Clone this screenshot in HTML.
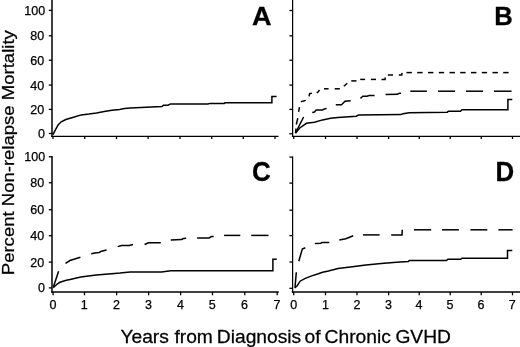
<!DOCTYPE html>
<html><head><meta charset="utf-8"><title>Non-relapse mortality</title>
<style>
html,body{margin:0;padding:0;background:#fff;}
body{width:520px;height:347px;overflow:hidden;}
svg{display:block;}
svg text{font-family:"Liberation Sans", Arial, Helvetica, sans-serif;fill:#000;stroke:#000;stroke-width:0.25px;}
</style></head><body>
<svg width="520" height="347" viewBox="0 0 520 347">
<rect width="520" height="347" fill="#fff"/>
<line x1="52.00" y1="0.00" x2="52.00" y2="136.95" stroke="#000" stroke-width="1.5"/>
<line x1="51.25" y1="136.30" x2="278.60" y2="136.30" stroke="#000" stroke-width="1.3"/>
<line x1="48.80" y1="133.50" x2="52.00" y2="133.50" stroke="#000" stroke-width="1.3"/>
<line x1="48.80" y1="109.40" x2="52.00" y2="109.40" stroke="#000" stroke-width="1.3"/>
<line x1="48.80" y1="85.10" x2="52.00" y2="85.10" stroke="#000" stroke-width="1.3"/>
<line x1="48.80" y1="60.25" x2="52.00" y2="60.25" stroke="#000" stroke-width="1.3"/>
<line x1="48.80" y1="35.80" x2="52.00" y2="35.80" stroke="#000" stroke-width="1.3"/>
<line x1="48.80" y1="10.40" x2="52.00" y2="10.40" stroke="#000" stroke-width="1.3"/>
<line x1="53.00" y1="136.30" x2="53.00" y2="139.00" stroke="#000" stroke-width="1.3"/>
<line x1="84.80" y1="136.30" x2="84.80" y2="139.00" stroke="#000" stroke-width="1.3"/>
<line x1="116.50" y1="136.30" x2="116.50" y2="139.00" stroke="#000" stroke-width="1.3"/>
<line x1="148.10" y1="136.30" x2="148.10" y2="139.00" stroke="#000" stroke-width="1.3"/>
<line x1="180.00" y1="136.30" x2="180.00" y2="139.00" stroke="#000" stroke-width="1.3"/>
<line x1="211.75" y1="136.30" x2="211.75" y2="139.00" stroke="#000" stroke-width="1.3"/>
<line x1="243.30" y1="136.30" x2="243.30" y2="139.00" stroke="#000" stroke-width="1.3"/>
<line x1="275.00" y1="136.30" x2="275.00" y2="139.00" stroke="#000" stroke-width="1.3"/>
<line x1="292.60" y1="0.00" x2="292.60" y2="136.95" stroke="#000" stroke-width="1.25"/>
<line x1="291.85" y1="136.30" x2="520.00" y2="136.30" stroke="#000" stroke-width="1.3"/>
<line x1="289.40" y1="133.75" x2="292.60" y2="133.75" stroke="#000" stroke-width="1.3"/>
<line x1="289.40" y1="109.40" x2="292.60" y2="109.40" stroke="#000" stroke-width="1.3"/>
<line x1="289.40" y1="85.10" x2="292.60" y2="85.10" stroke="#000" stroke-width="1.3"/>
<line x1="289.40" y1="60.25" x2="292.60" y2="60.25" stroke="#000" stroke-width="1.3"/>
<line x1="289.40" y1="35.80" x2="292.60" y2="35.80" stroke="#000" stroke-width="1.3"/>
<line x1="289.40" y1="10.50" x2="292.60" y2="10.50" stroke="#000" stroke-width="1.3"/>
<line x1="293.75" y1="136.30" x2="293.75" y2="139.00" stroke="#000" stroke-width="1.3"/>
<line x1="325.50" y1="136.30" x2="325.50" y2="139.00" stroke="#000" stroke-width="1.3"/>
<line x1="357.00" y1="136.30" x2="357.00" y2="139.00" stroke="#000" stroke-width="1.3"/>
<line x1="388.60" y1="136.30" x2="388.60" y2="139.00" stroke="#000" stroke-width="1.3"/>
<line x1="419.25" y1="136.30" x2="419.25" y2="139.00" stroke="#000" stroke-width="1.3"/>
<line x1="450.25" y1="136.30" x2="450.25" y2="139.00" stroke="#000" stroke-width="1.3"/>
<line x1="481.25" y1="136.30" x2="481.25" y2="139.00" stroke="#000" stroke-width="1.3"/>
<line x1="512.50" y1="136.30" x2="512.50" y2="139.00" stroke="#000" stroke-width="1.3"/>
<line x1="52.00" y1="156.10" x2="52.00" y2="292.85" stroke="#000" stroke-width="1.5"/>
<line x1="51.25" y1="292.00" x2="278.80" y2="292.00" stroke="#000" stroke-width="1.7"/>
<line x1="48.80" y1="287.90" x2="52.00" y2="287.90" stroke="#000" stroke-width="1.3"/>
<line x1="48.80" y1="262.10" x2="52.00" y2="262.10" stroke="#000" stroke-width="1.3"/>
<line x1="48.80" y1="235.70" x2="52.00" y2="235.70" stroke="#000" stroke-width="1.3"/>
<line x1="48.80" y1="209.75" x2="52.00" y2="209.75" stroke="#000" stroke-width="1.3"/>
<line x1="48.80" y1="182.75" x2="52.00" y2="182.75" stroke="#000" stroke-width="1.3"/>
<line x1="48.80" y1="156.80" x2="52.00" y2="156.80" stroke="#000" stroke-width="1.3"/>
<line x1="53.10" y1="292.00" x2="53.10" y2="295.30" stroke="#000" stroke-width="1.3"/>
<line x1="84.50" y1="292.00" x2="84.50" y2="295.30" stroke="#000" stroke-width="1.3"/>
<line x1="116.60" y1="292.00" x2="116.60" y2="295.30" stroke="#000" stroke-width="1.3"/>
<line x1="148.60" y1="292.00" x2="148.60" y2="295.30" stroke="#000" stroke-width="1.3"/>
<line x1="180.60" y1="292.00" x2="180.60" y2="295.30" stroke="#000" stroke-width="1.3"/>
<line x1="212.50" y1="292.00" x2="212.50" y2="295.30" stroke="#000" stroke-width="1.3"/>
<line x1="244.75" y1="292.00" x2="244.75" y2="295.30" stroke="#000" stroke-width="1.3"/>
<line x1="277.20" y1="292.00" x2="277.20" y2="295.30" stroke="#000" stroke-width="1.3"/>
<line x1="292.60" y1="156.45" x2="292.60" y2="292.85" stroke="#000" stroke-width="1.25"/>
<line x1="291.85" y1="292.00" x2="520.00" y2="292.00" stroke="#000" stroke-width="1.7"/>
<line x1="289.40" y1="288.30" x2="292.60" y2="288.30" stroke="#000" stroke-width="1.3"/>
<line x1="289.40" y1="262.00" x2="292.60" y2="262.00" stroke="#000" stroke-width="1.3"/>
<line x1="289.40" y1="235.60" x2="292.60" y2="235.60" stroke="#000" stroke-width="1.3"/>
<line x1="289.40" y1="210.20" x2="292.60" y2="210.20" stroke="#000" stroke-width="1.3"/>
<line x1="289.40" y1="183.10" x2="292.60" y2="183.10" stroke="#000" stroke-width="1.3"/>
<line x1="289.40" y1="157.10" x2="292.60" y2="157.10" stroke="#000" stroke-width="1.3"/>
<line x1="293.75" y1="292.00" x2="293.75" y2="295.30" stroke="#000" stroke-width="1.3"/>
<line x1="325.50" y1="292.00" x2="325.50" y2="295.30" stroke="#000" stroke-width="1.3"/>
<line x1="357.00" y1="292.00" x2="357.00" y2="295.30" stroke="#000" stroke-width="1.3"/>
<line x1="388.60" y1="292.00" x2="388.60" y2="295.30" stroke="#000" stroke-width="1.3"/>
<line x1="419.25" y1="292.00" x2="419.25" y2="295.30" stroke="#000" stroke-width="1.3"/>
<line x1="450.25" y1="292.00" x2="450.25" y2="295.30" stroke="#000" stroke-width="1.3"/>
<line x1="481.25" y1="292.00" x2="481.25" y2="295.30" stroke="#000" stroke-width="1.3"/>
<line x1="512.50" y1="292.00" x2="512.50" y2="295.30" stroke="#000" stroke-width="1.3"/>
<text x="44.9" y="138.05" font-size="12.5" text-anchor="end">0</text>
<text x="44.2" y="113.95" font-size="12.5" text-anchor="end">20</text>
<text x="44.2" y="89.65" font-size="12.5" text-anchor="end">40</text>
<text x="44.2" y="64.80" font-size="12.5" text-anchor="end">60</text>
<text x="44.2" y="40.35" font-size="12.5" text-anchor="end">80</text>
<text x="45.2" y="14.95" font-size="12.5" text-anchor="end">100</text>
<text x="44.9" y="292.45" font-size="12.5" text-anchor="end">0</text>
<text x="44.2" y="266.65" font-size="12.5" text-anchor="end">20</text>
<text x="44.2" y="240.25" font-size="12.5" text-anchor="end">40</text>
<text x="44.2" y="214.30" font-size="12.5" text-anchor="end">60</text>
<text x="44.2" y="187.30" font-size="12.5" text-anchor="end">80</text>
<text x="45.2" y="161.35" font-size="12.5" text-anchor="end">100</text>
<text x="52.90" y="308.6" font-size="12.5" text-anchor="middle">0</text>
<text x="84.30" y="308.6" font-size="12.5" text-anchor="middle">1</text>
<text x="116.40" y="308.6" font-size="12.5" text-anchor="middle">2</text>
<text x="148.40" y="308.6" font-size="12.5" text-anchor="middle">3</text>
<text x="180.40" y="308.6" font-size="12.5" text-anchor="middle">4</text>
<text x="212.30" y="308.6" font-size="12.5" text-anchor="middle">5</text>
<text x="244.55" y="308.6" font-size="12.5" text-anchor="middle">6</text>
<text x="277.00" y="308.6" font-size="12.5" text-anchor="middle">7</text>
<text x="293.75" y="308.6" font-size="12.5" text-anchor="middle">0</text>
<text x="325.50" y="308.6" font-size="12.5" text-anchor="middle">1</text>
<text x="357.00" y="308.6" font-size="12.5" text-anchor="middle">2</text>
<text x="388.60" y="308.6" font-size="12.5" text-anchor="middle">3</text>
<text x="418.95" y="308.6" font-size="12.5" text-anchor="middle">4</text>
<text x="449.95" y="308.6" font-size="12.5" text-anchor="middle">5</text>
<text x="480.95" y="308.6" font-size="12.5" text-anchor="middle">6</text>
<text x="512.20" y="308.6" font-size="12.5" text-anchor="middle">7</text>
<text transform="translate(120.4,342.5) scale(1.04,1)" font-size="18.5">Years</text>
<text transform="translate(174.4,342.5) scale(1.04,1)" font-size="18.5">from</text>
<text transform="translate(216.8,342.5) scale(1.04,1)" font-size="18.5">Diagnosis</text>
<text transform="translate(304.6,342.5) scale(1.04,1)" font-size="18.5">of</text>
<text transform="translate(324.6,342.5) scale(1.04,1)" font-size="18.5">Chronic</text>
<text transform="translate(395.4,342.5) scale(1.04,1)" font-size="18.5">GVHD</text>
<text transform="translate(13.9,275.2) rotate(-90)" font-size="17.2" textLength="245" lengthAdjust="spacingAndGlyphs">Percent Non-relapse Mortality</text>
<text transform="translate(252.0,25.0) scale(1.08,1.065)" font-size="25" font-weight="bold">A</text>
<text transform="translate(494.3,24.55) scale(1.025,1.015)" font-size="25" font-weight="bold">B</text>
<text transform="translate(252.0,180.65) scale(1.04,1.1)" font-size="25" font-weight="bold">C</text>
<text transform="translate(495.6,181.0) scale(1.035,1.07)" font-size="25" font-weight="bold">D</text>
<polyline points="53.0,134.7 55.0,130.6 58.1,124.9 61.2,121.8 65.8,119.5 73.5,117.2 81.2,114.9 88.9,114.1 96.6,113.1 104.2,111.5 111.9,110.3 119.6,109.4 124.4,108.5 130.4,107.9 161.9,106.5 163.4,105.2 168.1,105.2 170.4,103.9 208.1,103.9 209.9,103.4 224.2,103.4 225.0,102.8 271.9,102.8 271.9,96.5 276.6,96.5" fill="none" stroke="#000" stroke-width="1.5" stroke-linejoin="miter"/>
<polyline points="295.4,133.3 299.8,128.0 306.4,123.3 314.5,122.2 322.6,119.9 330.6,118.3 338.0,117.6 356.2,116.2 358.5,115.0 400.8,114.6 403.0,113.8 409.2,112.7 447.3,112.2 448.5,111.2 460.5,111.2 461.9,109.7 507.9,109.7 507.9,99.5 512.3,99.5" fill="none" stroke="#000" stroke-width="1.5" stroke-linejoin="miter"/>
<polyline points="295.5,133.0 296.0,128.5" fill="none" stroke="#000" stroke-width="1.5" stroke-linejoin="miter"/>
<polyline points="296.3,124.5 297.8,118.2" fill="none" stroke="#000" stroke-width="1.5" stroke-linejoin="miter"/>
<polyline points="298.6,111.8 299.5,107.2" fill="none" stroke="#000" stroke-width="1.5" stroke-linejoin="miter"/>
<polyline points="300.8,101.8 305.8,100.4" fill="none" stroke="#000" stroke-width="1.5" stroke-linejoin="miter"/>
<polyline points="309.0,96.3 309.6,93.6 311.9,93.2" fill="none" stroke="#000" stroke-width="1.5" stroke-linejoin="miter"/>
<polyline points="316.7,92.7 318.2,92.0 319.4,89.8" fill="none" stroke="#000" stroke-width="1.5" stroke-linejoin="miter"/>
<polyline points="324.0,88.8 328.6,88.8" fill="none" stroke="#000" stroke-width="1.5" stroke-linejoin="miter"/>
<polyline points="334.7,88.8 339.9,88.8" fill="none" stroke="#000" stroke-width="1.5" stroke-linejoin="miter"/>
<polyline points="343.8,86.3 347.3,83.2" fill="none" stroke="#000" stroke-width="1.5" stroke-linejoin="miter"/>
<polyline points="351.3,80.9 356.5,80.9" fill="none" stroke="#000" stroke-width="1.5" stroke-linejoin="miter"/>
<polyline points="360.2,79.4 365.1,79.4" fill="none" stroke="#000" stroke-width="1.5" stroke-linejoin="miter"/>
<polyline points="370.9,79.4 376.0,79.4" fill="none" stroke="#000" stroke-width="1.5" stroke-linejoin="miter"/>
<polyline points="381.5,79.4 385.1,79.4 385.2,77.5" fill="none" stroke="#000" stroke-width="1.5" stroke-linejoin="miter"/>
<polyline points="387.9,75.0 393.0,75.0" fill="none" stroke="#000" stroke-width="1.5" stroke-linejoin="miter"/>
<polyline points="398.8,75.0 401.8,75.0 402.0,72.9" fill="none" stroke="#000" stroke-width="1.5" stroke-linejoin="miter"/>
<polyline points="406.5,72.6 411.9,72.6" fill="none" stroke="#000" stroke-width="1.5" stroke-linejoin="miter"/>
<polyline points="417.2,72.6 422.6,72.6" fill="none" stroke="#000" stroke-width="1.5" stroke-linejoin="miter"/>
<polyline points="428.0,72.6 433.4,72.6" fill="none" stroke="#000" stroke-width="1.5" stroke-linejoin="miter"/>
<polyline points="438.8,72.6 444.1,72.6" fill="none" stroke="#000" stroke-width="1.5" stroke-linejoin="miter"/>
<polyline points="449.5,72.6 454.9,72.6" fill="none" stroke="#000" stroke-width="1.5" stroke-linejoin="miter"/>
<polyline points="460.2,72.6 465.6,72.6" fill="none" stroke="#000" stroke-width="1.5" stroke-linejoin="miter"/>
<polyline points="471.0,72.6 476.4,72.6" fill="none" stroke="#000" stroke-width="1.5" stroke-linejoin="miter"/>
<polyline points="481.8,72.6 487.1,72.6" fill="none" stroke="#000" stroke-width="1.5" stroke-linejoin="miter"/>
<polyline points="492.5,72.6 497.9,72.6" fill="none" stroke="#000" stroke-width="1.5" stroke-linejoin="miter"/>
<polyline points="503.2,72.6 508.6,72.6" fill="none" stroke="#000" stroke-width="1.5" stroke-linejoin="miter"/>
<polyline points="295.5,133.0 303.6,117.0" fill="none" stroke="#000" stroke-width="1.5" stroke-linejoin="miter"/>
<polyline points="312.2,112.4 314.5,112.0 316.2,109.9 322.6,109.9 324.3,108.9 326.6,108.6" fill="none" stroke="#000" stroke-width="1.5" stroke-linejoin="miter"/>
<polyline points="335.8,104.7 341.5,104.7 345.0,101.3 350.7,100.7" fill="none" stroke="#000" stroke-width="1.5" stroke-linejoin="miter"/>
<polyline points="360.5,98.4 362.8,96.3 366.9,96.3 369.2,95.5 374.6,95.5" fill="none" stroke="#000" stroke-width="1.5" stroke-linejoin="miter"/>
<polyline points="385.6,94.6 397.6,94.3 399.4,93.2 401.1,93.2" fill="none" stroke="#000" stroke-width="1.5" stroke-linejoin="miter"/>
<polyline points="410.3,91.2 426.9,91.2" fill="none" stroke="#000" stroke-width="1.5" stroke-linejoin="miter"/>
<polyline points="438.1,91.2 455.0,91.2" fill="none" stroke="#000" stroke-width="1.5" stroke-linejoin="miter"/>
<polyline points="466.0,91.2 483.1,91.2" fill="none" stroke="#000" stroke-width="1.5" stroke-linejoin="miter"/>
<polyline points="494.0,91.2 511.5,91.2" fill="none" stroke="#000" stroke-width="1.5" stroke-linejoin="miter"/>
<polyline points="53.2,287.6 57.5,283.8 60.0,282.3 65.4,280.5 70.0,279.6 80.8,276.9 96.2,274.9 111.5,273.8 120.0,273.1 125.0,272.4 130.0,272.1 161.5,272.1 170.8,270.8 272.9,270.8 272.9,259.2 276.7,259.2" fill="none" stroke="#000" stroke-width="1.5" stroke-linejoin="miter"/>
<polyline points="53.4,287.0 58.6,271.2" fill="none" stroke="#000" stroke-width="1.5" stroke-linejoin="miter"/>
<polyline points="65.5,263.3 70.0,260.5 73.1,259.5 80.4,257.3" fill="none" stroke="#000" stroke-width="1.5" stroke-linejoin="miter"/>
<polyline points="91.2,253.8 96.2,252.8 99.2,252.5 101.5,251.2 106.6,250.0" fill="none" stroke="#000" stroke-width="1.5" stroke-linejoin="miter"/>
<polyline points="117.7,246.6 121.5,245.5 126.9,245.6 129.2,245.6 133.0,244.6" fill="none" stroke="#000" stroke-width="1.5" stroke-linejoin="miter"/>
<polyline points="144.6,244.5 148.5,242.7 160.8,242.7" fill="none" stroke="#000" stroke-width="1.5" stroke-linejoin="miter"/>
<polyline points="170.8,240.1 181.5,239.6 183.4,238.5 186.2,238.2" fill="none" stroke="#000" stroke-width="1.5" stroke-linejoin="miter"/>
<polyline points="197.1,238.0 209.2,238.0 211.4,236.6 213.7,236.6" fill="none" stroke="#000" stroke-width="1.5" stroke-linejoin="miter"/>
<polyline points="224.1,235.4 240.3,235.4" fill="none" stroke="#000" stroke-width="1.5" stroke-linejoin="miter"/>
<polyline points="251.2,235.4 268.5,235.4" fill="none" stroke="#000" stroke-width="1.5" stroke-linejoin="miter"/>
<polyline points="294.7,288.0 297.2,285.7 300.1,281.2 305.3,278.4 311.0,276.1 318.3,273.8 322.6,272.2 328.4,271.0 338.0,268.6 350.4,266.9 365.8,264.9 381.2,263.4 396.5,262.3 408.4,261.4 409.4,260.5 446.2,260.5 447.8,259.3 460.5,259.3 461.9,258.3 507.5,258.3 507.5,250.4 512.3,250.4" fill="none" stroke="#000" stroke-width="1.5" stroke-linejoin="miter"/>
<polyline points="295.0,287.6 296.3,272.2" fill="none" stroke="#000" stroke-width="1.5" stroke-linejoin="miter"/>
<polyline points="298.8,261.2 302.3,249.0 305.3,247.7" fill="none" stroke="#000" stroke-width="1.5" stroke-linejoin="miter"/>
<polyline points="314.8,243.6 320.8,243.2 322.0,242.4 329.3,242.4" fill="none" stroke="#000" stroke-width="1.5" stroke-linejoin="miter"/>
<polyline points="339.3,240.0 345.8,238.8 349.6,237.2 353.2,235.7" fill="none" stroke="#000" stroke-width="1.5" stroke-linejoin="miter"/>
<polyline points="363.0,234.9 379.6,234.9" fill="none" stroke="#000" stroke-width="1.5" stroke-linejoin="miter"/>
<polyline points="391.2,234.9 402.0,234.9 402.3,229.7" fill="none" stroke="#000" stroke-width="1.5" stroke-linejoin="miter"/>
<polyline points="413.9,229.8 431.2,229.8" fill="none" stroke="#000" stroke-width="1.5" stroke-linejoin="miter"/>
<polyline points="442.0,229.8 458.9,229.8" fill="none" stroke="#000" stroke-width="1.5" stroke-linejoin="miter"/>
<polyline points="470.4,229.8 487.3,229.8" fill="none" stroke="#000" stroke-width="1.5" stroke-linejoin="miter"/>
<polyline points="498.4,229.8 512.6,229.8" fill="none" stroke="#000" stroke-width="1.5" stroke-linejoin="miter"/>
</svg>
</body></html>
